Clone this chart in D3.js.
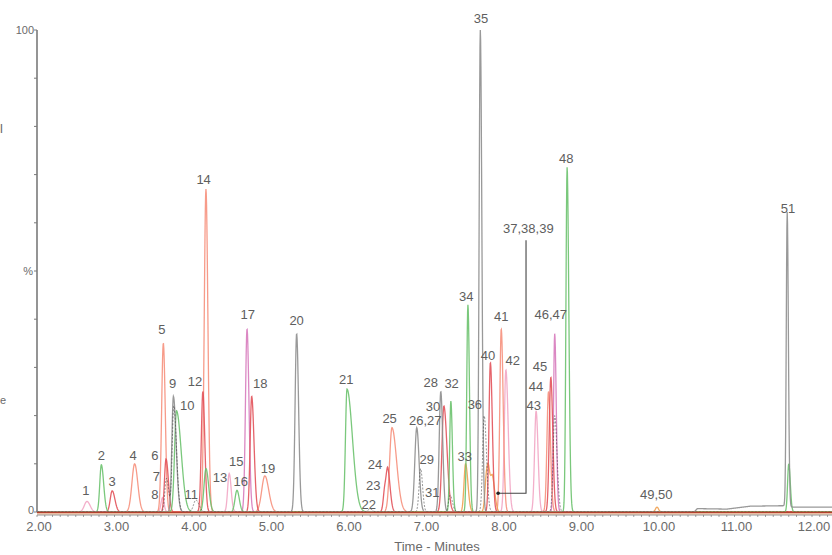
<!DOCTYPE html>
<html><head><meta charset="utf-8">
<script src="https://cdn.jsdelivr.net/npm/d3@7/dist/d3.min.js"></script>
<style>
body{margin:0;background:#fff;}
svg{display:block;font-family:"Liberation Sans",Arial,sans-serif;}
</style></head>
<body><svg id="c" width="832" height="555"></svg>
<script>
// ---------- DATA ----------
const traceNames = ["pink","magenta","salmon","orange","red","green","gray","dark"];
// peaks: retention time (min), height (%), left width, right width (min), trace
const peakIds    = ["1","2","3","4","5","6","7","8","9","9b","10","11","12","13","14","15","16","17","18","19","20","21","22","23","24","25","26","29","28","30","31","32","33","34","35","36","37","38","39","40","41","42","43","44","45","46","47","48","49","51","51b"];
const peakTimes  = [2.645,2.83,2.97,3.26,3.63,3.665,3.67,3.62,3.76,3.765,3.80,4.05,4.14,4.18,4.18,4.48,4.58,4.71,4.77,4.94,5.35,6.00,6.30,6.49,6.53,6.58,6.90,6.95,7.21,7.25,7.33,7.34,7.53,7.56,7.72,7.77,7.80,7.83,7.88,7.85,7.99,8.05,8.44,8.60,8.63,8.68,8.68,8.84,10.0,11.68,11.70];
const peakHeights= [2.2,9.8,4.4,10,35,11,7,3,24,22,21,2.5,25,9,67,8,4.5,38,24,7.5,37,25.5,0.6,5,7,17.5,17.5,9,25,22,3.5,23,10,43,100,20,7,5,6,31,38,29.5,21,25,28,37,20,71.5,1,61,10];
const peakSigL   = [0.035,0.02,0.025,0.035,0.022,0.02,0.02,0.02,0.02,0.02,0.025,0.03,0.02,0.025,0.022,0.02,0.025,0.02,0.02,0.04,0.02,0.02,0.03,0.02,0.02,0.03,0.025,0.02,0.02,0.025,0.02,0.015,0.02,0.015,0.015,0.02,0.02,0.02,0.02,0.018,0.018,0.02,0.02,0.02,0.02,0.015,0.02,0.015,0.02,0.012,0.015];
const peakSigR   = [0.04,0.03,0.035,0.04,0.025,0.03,0.03,0.02,0.035,0.035,0.06,0.04,0.025,0.035,0.025,0.025,0.03,0.025,0.03,0.05,0.025,0.07,0.03,0.03,0.03,0.06,0.03,0.025,0.025,0.04,0.03,0.02,0.03,0.02,0.02,0.03,0.03,0.03,0.03,0.025,0.025,0.03,0.025,0.025,0.025,0.02,0.03,0.022,0.02,0.015,0.02];
const peakTrace  = ["pink","green","red","salmon","salmon","red","dark","pink","gray","dark","green","dark","red","green","salmon","pink","green","magenta","red","salmon","gray","green","dark","red","red","salmon","gray","dark","gray","red","dark","green","orange","green","gray","dark","orange","orange","orange","red","salmon","pink","pink","salmon","red","magenta","dark","green","orange","gray","green"];
// gray baseline drift at the end of the run [time, %]
const driftTimes  = [10.48,10.52,10.9,11.0,11.2,11.6,11.66,11.75,12.3];
const driftValues = [0,0.7,0.6,0.8,1.2,1.3,1.3,1.0,1.0];
// peak labels [text, time, %]
const labelTexts = ["1","2","3","4","5","6","7","8","9","10","11","12","13","14","15","16","17","18","19","20","21","22","23","24","25","26,27","28","29","30","31","32","33","34","35","36","37,38,39","40","41","42","43","44","45","46,47","48","49,50","51"];
const labelTimes = [2.63,2.83,2.97,3.24,3.61,3.52,3.54,3.52,3.75,3.94,3.99,4.04,4.36,4.15,4.57,4.63,4.72,4.88,4.98,5.35,5.99,6.28,6.34,6.36,6.55,7.01,7.08,7.03,7.11,7.10,7.35,7.52,7.54,7.73,7.65,8.34,7.82,7.99,8.14,8.41,8.44,8.49,8.63,8.83,9.99,11.69];
const labelVals  = [4.4,11.8,6.4,11.8,37.8,11.8,7.3,3.7,26.6,22.2,3.7,27.0,7.1,68.9,10.4,6.4,40.9,26.6,9.1,39.8,27.4,1.5,5.6,9.8,19.5,18.9,26.8,11.0,21.8,4.1,26.6,11.6,44.8,102.5,22.4,58.9,32.4,40.5,31.5,22.2,26.1,30.1,40.9,73.4,3.7,62.9];
// callout for 37,38,39: [time, %] points
const calloutTimes = [8.31,8.31,7.95];
const calloutVals  = [56.4,3.9,3.9];
const xTicks = [2,3,4,5,6,7,8,9,10,11,12];
const yTicks = [0,10,20,30,40,50,60,70,80,90,100];

// ---------- STYLE ----------
const traceColor = {pink:"#f2a6c4",magenta:"#d77bbd",salmon:"#f6907c",orange:"#f0a050",red:"#e2525a",green:"#6cc26e",gray:"#8e8e8e",dark:"#3a3a3a"};

const svg = d3.select("#c");
const x = d3.scaleLinear().domain([2,12]).range([37,812]);
const y = d3.scaleLinear().domain([0,100]).range([512,30]);

// sample grid for drawing curves
const tGrid = d3.range(2.0, 12.27, 0.004);
function driftAt(t){
  if (t < driftTimes[0] || t > driftTimes[driftTimes.length-1]) return 0;
  const i = d3.bisectRight(driftTimes, t) - 1;
  const j = Math.min(i+1, driftTimes.length-1);
  if (i === j) return driftValues[i];
  const f = (t - driftTimes[i])/(driftTimes[j]-driftTimes[i]);
  return driftValues[i] + f*(driftValues[j]-driftValues[i]);
}
function traceValue(name, t){
  let v = 0;
  for (let k=0;k<peakTimes.length;k++){
    if (peakTrace[k] !== name) continue;
    const d = t - peakTimes[k];
    const s = d < 0 ? peakSigL[k] : peakSigR[k];
    v += peakHeights[k]*Math.exp(-0.5*(d/s)*(d/s));
  }
  if (name === "gray") v += driftAt(t);
  return v;
}
const line = d3.line().x(d=>x(d[0])).y(d=>y(d[1]));

const g = svg.append("g");
traceNames.forEach(name=>{
  const pts = tGrid.map(t=>[t, traceValue(name,t)]);
  g.append("path").attr("d", line(pts))
    .attr("fill","none")
    .attr("stroke", traceColor[name])
    .attr("stroke-width", name==="dark"?0.9:1.3)
    .attr("stroke-dasharray", name==="dark"?"2,1.5":null)
    .attr("stroke-opacity", name==="dark"?0.6:0.9);
});
// baseline emphasis (overlapping channels at zero)
g.append("line").attr("x1",x(2)).attr("x2",832).attr("y1",y(0)+0.5).attr("y2",y(0)+0.5)
  .attr("stroke","#b3402e").attr("stroke-width",1.6);
g.append("line").attr("x1",x(2)).attr("x2",832).attr("y1",y(0)+2).attr("y2",y(0)+2)
  .attr("stroke","#f08a3a").attr("stroke-width",0.8).attr("stroke-opacity",0.7);

// ---------- AXES ----------
const axisColor = "#7a7a7a";
const textColor = "#6a6a6a";
// x axis
const xa = svg.append("g").attr("transform",`translate(0,${y(0)+3})`);
xa.append("line").attr("x1",x(2)).attr("x2",832).attr("stroke",axisColor).attr("stroke-width",0.8);
d3.range(2,12.26,0.1).forEach(t=>{
  xa.append("line").attr("x1",x(t)).attr("x2",x(t)).attr("y1",0).attr("y2",2)
    .attr("stroke",axisColor).attr("stroke-width",0.7);
});
xa.selectAll("text.xt").data(xTicks).enter().append("text")
  .attr("x",d=>x(d)+2).attr("y",16).attr("text-anchor","middle")
  .attr("font-size",13).attr("fill",textColor).text(d=>d.toFixed(2));
svg.append("text").attr("x",437).attr("y",551).attr("text-anchor","middle")
  .attr("font-size",13).attr("fill",textColor).text("Time - Minutes");

// y axis
const ya = svg.append("g");
ya.append("line").attr("x1",x(2)).attr("x2",x(2)).attr("y1",y(100)).attr("y2",y(0))
  .attr("stroke",axisColor).attr("stroke-width",1.6);
ya.selectAll("line.yt").data(yTicks).enter().append("line")
  .attr("x1",x(2)-3).attr("x2",x(2)).attr("y1",d=>y(d)).attr("y2",d=>y(d))
  .attr("stroke",axisColor).attr("stroke-width",1);
ya.append("text").attr("x",x(2)-3).attr("y",y(100)+4).attr("text-anchor","end")
  .attr("font-size",11).attr("fill",textColor).text("100");
ya.append("text").attr("x",x(2)-3).attr("y",y(0)+2).attr("text-anchor","end")
  .attr("font-size",11).attr("fill",textColor).text("0");
ya.append("text").attr("x",x(2)-4).attr("y",y(50)+4).attr("text-anchor","end")
  .attr("font-size",11).attr("fill",textColor).text("%");
// small fragments at the left edge
svg.append("text").attr("x",0).attr("y",133).attr("font-size",13).attr("fill",textColor).text("l");
svg.append("text").attr("x",0).attr("y",404).attr("font-size",11).attr("fill",textColor).text("e");

// ---------- LABELS ----------
svg.selectAll("text.pl").data(labelTexts).enter().append("text")
  .attr("x",(d,i)=>x(labelTimes[i])).attr("y",(d,i)=>y(labelVals[i]))
  .attr("dy","0.35em").attr("text-anchor","middle")
  .attr("font-size",13).attr("fill","#5e5e5e").text(d=>d);

// callout
const cpts = calloutTimes.map((t,i)=>[t,calloutVals[i]]);
svg.append("path").attr("d",line(cpts)).attr("fill","none").attr("stroke","#444").attr("stroke-width",1.1);
svg.append("circle").attr("cx",x(calloutTimes[2])).attr("cy",y(calloutVals[2])).attr("r",1.8).attr("fill","#222");
</script></body></html>
